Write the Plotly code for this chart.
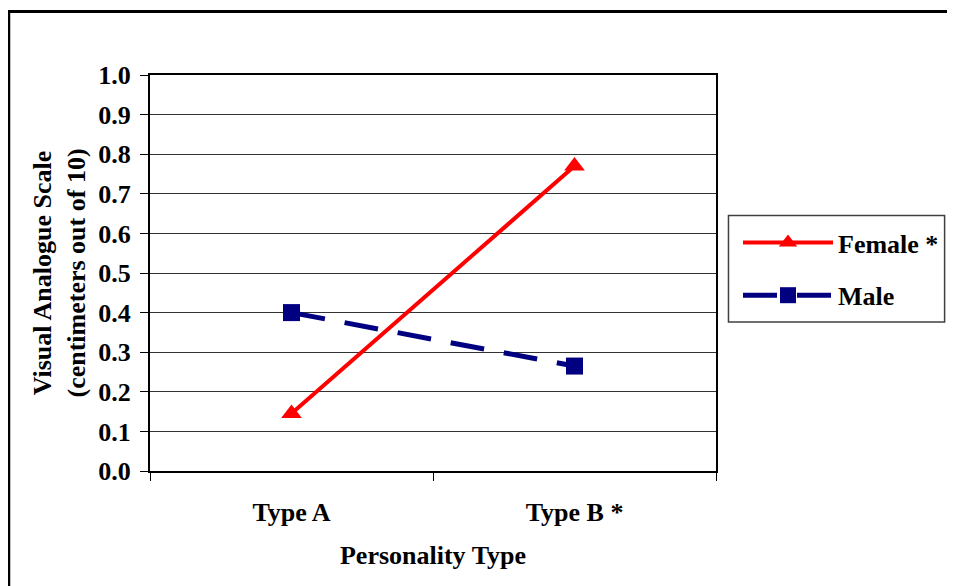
import plotly.graph_objects as go

categories = ["Type A", "Type B *"]
female = [0.145, 0.77]
male = [0.40, 0.265]

FONT = "Liberation Serif"

# page body has an 8px margin, so the figure starts at (8, 8)
W, H = 947, 578
L, T, PW, PH = 142, 67, 567, 396


def px(x):
    return (x - 8 - L) / PW


def py(y):
    return (T + PH - (y - 8)) / PH


fig = go.Figure()
fig.add_trace(go.Scatter(
    x=categories, y=female, name="<b>Female *</b>", mode="lines+markers",
    legendgroup="f",
    line=dict(color="#ff0000", width=4),
    marker=dict(symbol="triangle-up", size=18, color="#ff0000"),
))
fig.add_trace(go.Scatter(
    x=categories, y=male, name="<b>Male</b>", mode="lines+markers",
    legendgroup="m",
    line=dict(color="#000080", width=5, dash="34px,20px"),
    marker=dict(symbol="square", size=17, color="#000080"),
))

fig.update_layout(
    width=W, height=H,
    margin=dict(l=L, r=W - L - PW, t=T, b=H - T - PH),
    paper_bgcolor="white", plot_bgcolor="white",
    font=dict(family=FONT, size=26, color="black"),
    showlegend=True,
    legend=dict(x=px(738), y=py(219), xanchor="left", yanchor="top",
                bgcolor="rgba(0,0,0,0)", borderwidth=0,
                traceorder="grouped", tracegroupgap=16,
                font=dict(family=FONT, size=26, color="black"),
                itemwidth=90),
    xaxis=dict(
        type="category", range=[-0.5, 1.5], tickson="boundaries",
        ticks="outside", ticklen=8, tickcolor="black", tickwidth=1,
        showline=True, linecolor="black", linewidth=2, mirror=True,
        showgrid=False, ticklabelstandoff=17,
        tickfont=dict(family=FONT, size=26, color="black", weight="bold"),
        title=dict(text="<b>Personality Type</b>", standoff=20,
                   font=dict(family=FONT, size=26, color="black")),
    ),
    yaxis=dict(
        range=[0, 1.0], dtick=0.1, tickformat=".1f",
        ticks="outside", ticklen=8, tickcolor="black", tickwidth=1,
        showline=True, linecolor="black", linewidth=2, mirror=True,
        showgrid=True, gridcolor="#333333", gridwidth=1,
        zeroline=False, ticklabelstandoff=4,
        tickfont=dict(family=FONT, size=26, color="black", weight="bold"),
        title=dict(text="<b>Visual Analogue Scale<br>(centimeters out of 10)</b>",
                   standoff=5, font=dict(family=FONT, size=26, color="black")),
    ),
    shapes=[
        dict(type="rect", xref="paper", yref="paper",
             x0=px(8.5), x1=px(975), y0=py(600), y1=py(11.5),
             line=dict(color="black", width=3), layer="below"),
        dict(type="rect", xref="paper", yref="paper",
             x0=px(729.5), x1=px(946), y0=py(322), y1=py(215.5),
             line=dict(color="#404040", width=1.5), fillcolor="white",
             layer="below"),
    ],
)

fig.write_html("out.html")
